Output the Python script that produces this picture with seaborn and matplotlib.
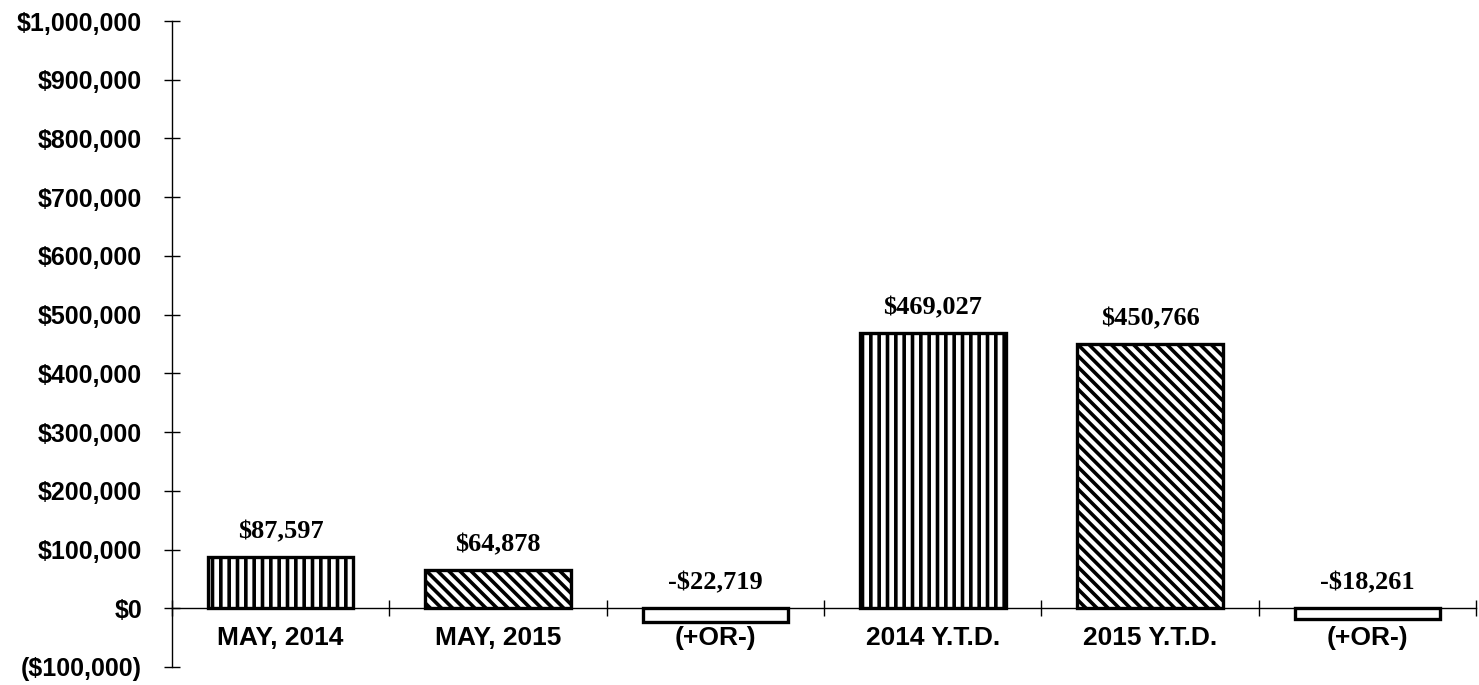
import matplotlib
matplotlib.use('Agg')
import matplotlib.pyplot as plt
import matplotlib.ticker as mticker
import pandas as pd
import seaborn as sns


# Data
labels = ['MAY, 2014', 'MAY, 2015', '(+OR-)', '2014 Y.T.D.', '2015 Y.T.D.', '(+OR-)']
values = [87597, 64878, -22719, 469027, 450766, -18261]

BS = chr(92)  # backslash
hatches = ['||', BS * 3, '', '||', BS * 3, '']

df = pd.DataFrame({'slot': [str(i) for i in range(len(labels))], 'value': values})


sns.set_style('white')
plt.rcParams['font.family'] = ['Liberation Sans', 'DejaVu Sans']
plt.rcParams['font.weight'] = 'bold'
plt.rcParams['text.color'] = 'black'
plt.rcParams['xtick.color'] = 'black'
plt.rcParams['ytick.color'] = 'black'
plt.rcParams['xtick.labelcolor'] = 'black'
plt.rcParams['ytick.labelcolor'] = 'black'
plt.rcParams['hatch.linewidth'] = 2.6
plt.rcParams['hatch.color'] = 'black'

fig, ax = plt.subplots(figsize=(14.79, 6.85), dpi=100)
fig.subplots_adjust(left=0.1163, right=0.998, bottom=0.0263, top=0.9693)

sns.barplot(data=df, x='slot', y='value', color='white', width=0.67,
            edgecolor='black', linewidth=2.4, saturation=1, ax=ax)

for patch, h in zip(ax.patches, hatches):
    patch.set_facecolor('white')
    patch.set_hatch(h)

# value labels
for i, v in enumerate(values):
    txt = f'${v:,}' if v >= 0 else f'-${abs(v):,}'
    ax.annotate(txt, (i, max(v, 0)), xytext=(0, 18), textcoords='offset points',
                ha='center', va='center', fontsize=19, fontweight='bold',
                color='black', family=['Liberation Serif', 'DejaVu Serif'])

# axes
ax.set_ylim(-100000, 1000000)
ax.set_xlim(-0.5, len(labels) - 0.5)
ax.yaxis.set_major_locator(mticker.MultipleLocator(100000))
ax.yaxis.set_major_formatter(mticker.FuncFormatter(
    lambda y, _: f'${y:,.0f}' if y >= 0 else f'(${abs(y):,.0f})'))
ax.tick_params(axis='y', direction='inout', length=11, width=1, pad=16,
               labelsize=18, left=True)

ax.set_xticks(range(len(labels)))
ax.set_xticklabels(labels)
ax.tick_params(axis='x', which='major', length=0, pad=13, labelsize=19)
ax.set_xticks([i + 0.5 for i in range(-1, len(labels))], minor=True)
ax.tick_params(axis='x', which='minor', direction='inout', length=11, width=1, bottom=True)

ax.spines['bottom'].set_position(('data', 0))
ax.spines['top'].set_visible(False)
ax.spines['right'].set_visible(False)
for s in ['left', 'bottom']:
    ax.spines[s].set_linewidth(1)
    ax.spines[s].set_color('black')

ax.set_xlabel('')
ax.set_ylabel('')

plt.savefig('out.png', dpi=100)
